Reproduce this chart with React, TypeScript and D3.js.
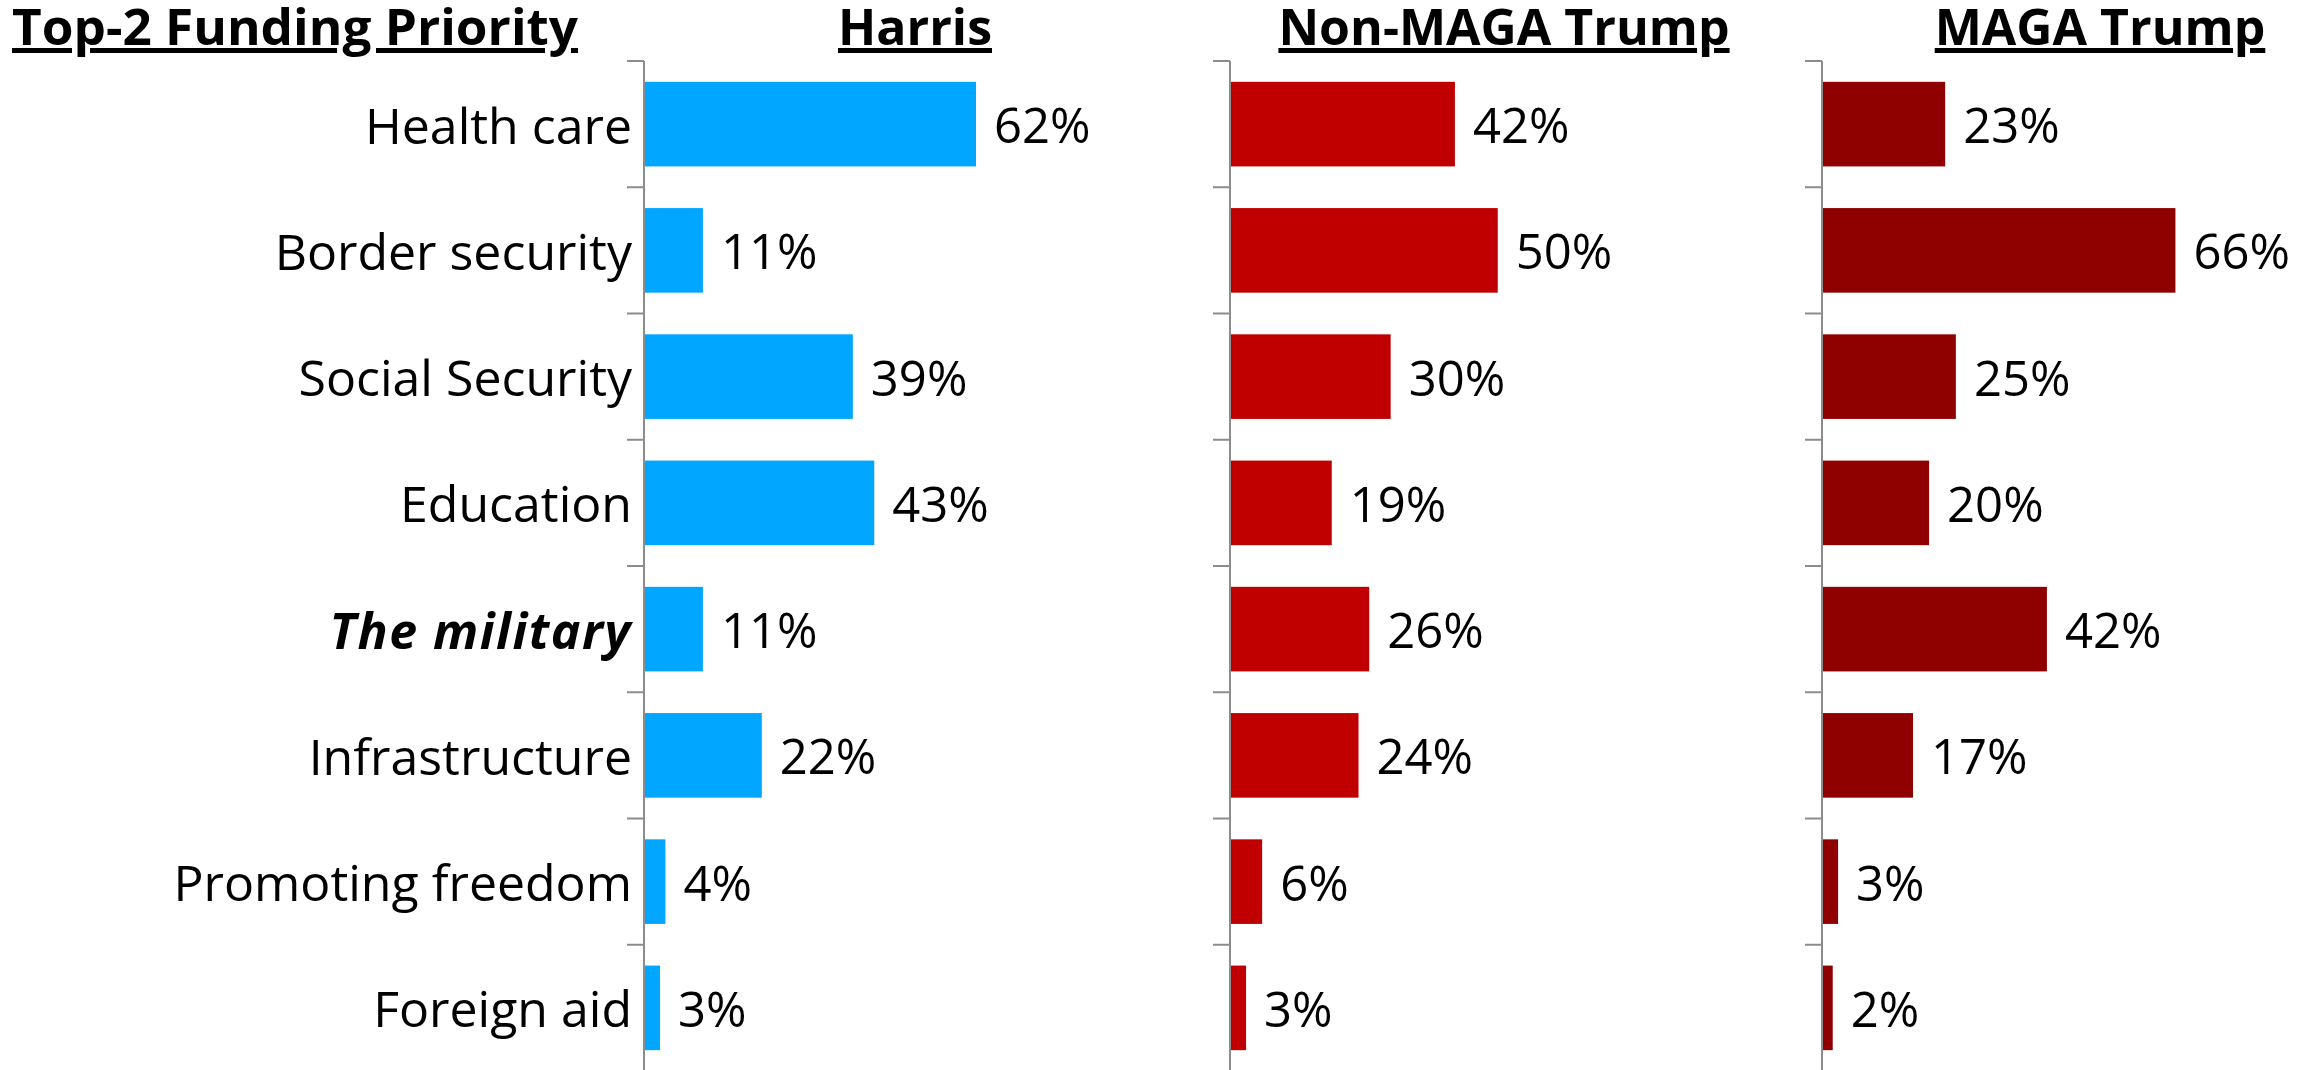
import React from "react";
import * as d3 from "d3";

const categories = [
  "Health care",
  "Border security",
  "Social Security",
  "Education",
  "The military",
  "Infrastructure",
  "Promoting freedom",
  "Foreign aid",
];
const harris = [62, 11, 39, 43, 11, 22, 4, 3];
const nonMaga = [42, 50, 30, 19, 26, 24, 6, 3];
const maga = [23, 66, 25, 20, 42, 17, 3, 2];
const panelTitles = ["Harris", "Non-MAGA Trump", "MAGA Trump"];
const mainTitle = "Top-2 Funding Priority";
const emphasized = "The military";

const W = 2307;
const H = 1070;
const FONT = "'Open Sans', 'Noto Sans', sans-serif";

const panels = [
  { title: panelTitles[0], values: harris, color: "#00A6FF", axisX: 644, titleX: 915 },
  { title: panelTitles[1], values: nonMaga, color: "#C00000", axisX: 1230, titleX: 1504 },
  { title: panelTitles[2], values: maga, color: "#8F0000", axisX: 1822, titleX: 2100 },
];

export default function App() {
  const y = d3
    .scaleBand<string>()
    .domain(categories)
    .range([61, 1071])
    .paddingInner(0.33)
    .paddingOuter(0.165);
  const x = d3.scaleLinear().domain([0, 100]).range([0, 535.5]);
  const step = y.step();
  const tickYs = d3.range(categories.length + 1).map((i) => 61 + i * step);

  return (
    <svg
      width={W}
      height={H}
      viewBox={`0 0 ${W} ${H}`}
      style={{ position: "absolute", left: 0, top: 0, background: "#fff" }}
      fontFamily={FONT}
    >
      <rect width={W} height={H} fill="#fff" />
      <text
        x={12}
        y={45}
        fontSize={50}
        fontWeight={700}
        textLength={566}
        lengthAdjust="spacingAndGlyphs"
        style={{ textDecoration: "underline" }}
      >
        {mainTitle}
      </text>
      {categories.map((c) => (
        <text
          key={c}
          x={632}
          y={(y(c) as number) + y.bandwidth() / 2}
          dy="0.39em"
          textAnchor="end"
          fontSize={50}
          fontWeight={c === emphasized ? 700 : 400}
          fontStyle={c === emphasized ? "italic" : "normal"}
          letterSpacing={c === emphasized ? 1.5 : 0}
        >
          {c}
        </text>
      ))}
      {panels.map((p) => (
        <g key={p.title}>
          <text
            x={p.titleX}
            y={45}
            textAnchor="middle"
            fontSize={50}
            fontWeight={700}
            style={{ textDecoration: "underline" }}
          >
            {p.title}
          </text>
          <g transform={`translate(${p.axisX},0)`}>
            {categories.map((c, i) => (
              <g key={c}>
                <rect
                  x={0}
                  y={y(c)}
                  width={x(p.values[i])}
                  height={y.bandwidth()}
                  fill={p.color}
                />
                <text
                  x={x(p.values[i]) + 18}
                  y={(y(c) as number) + y.bandwidth() / 2}
                  dy="0.39em"
                  fontSize={49}
                >
                  {p.values[i]}%
                </text>
              </g>
            ))}
            <line x1={0} x2={0} y1={61} y2={H} stroke="#8c8c8c" strokeWidth={2} />
            {tickYs.map((t, i) => (
              <line key={i} x1={-17} x2={0} y1={t} y2={t} stroke="#8c8c8c" strokeWidth={2} />
            ))}
          </g>
        </g>
      ))}
    </svg>
  );
}
